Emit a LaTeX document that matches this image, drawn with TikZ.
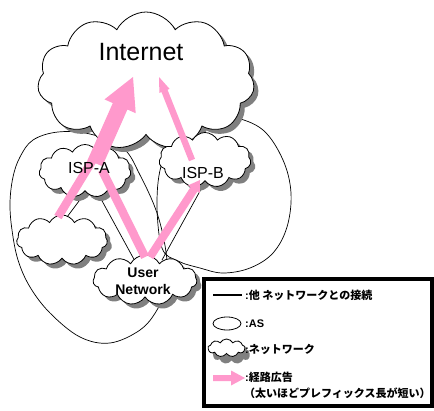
\documentclass[tikz,border=0pt]{standalone}
\usepackage{fontspec}
\setmainfont{Liberation Sans}
\newfontfamily\jp{Noto Sans CJK JP}
\usetikzlibrary{shapes.symbols,shadows}
\definecolor{adpink}{RGB}{255,153,204}
\definecolor{shadowgray}{RGB}{128,128,128}
\begin{document}
\begin{tikzpicture}[x=1pt,y=-1pt,
  cloudshape/.style={cloud, cloud puffs=11, cloud puff arc=125, cloud ignores aspect,
    draw, fill=white, line width=0.8pt, inner sep=0pt,
    drop shadow={shadow xshift=4.5pt, shadow yshift=-4.5pt, fill=shadowgray, opacity=1}},
  conn/.style={line width=0.7pt},
  asline/.style={line width=0.7pt},
  adv/.style={fill=adpink, draw=none},
  lbl/.style={inner sep=0pt, anchor=west, font=\bfseries\fontsize{11}{13}\selectfont}
]
\fill[white] (0,0) rectangle (434,410);
\useasboundingbox (0,0) rectangle (434,410);

% AS outlines
\draw[asline] plot[smooth cycle, tension=0.6] coordinates {
  (58,132) (90,134) (123,148) (140,175) (157,213) (166,252) (167,285) (157,310)
  (140,330) (110,343) (80,337) (50,313) (30,287) (18,260) (12,230) (10,203)
  (13,177) (20,157) (33,140)};
\draw[asline] plot[smooth cycle, tension=0.6] coordinates {
  (162,163) (157,203) (162,248) (178,261) (200,268) (223,273) (250,268) (273,253)
  (287,227) (291,193) (283,160) (263,130) (233,117) (205,116) (180,133)};

% connections
\coordinate (l1a) at (61,225); \coordinate (l1b) at (88,189);
\coordinate (l2a) at (95,188); \coordinate (l2b) at (136,263);
\coordinate (l4a) at (205,182); \coordinate (l4b) at (162,260);
\draw[conn] (l1a) -- (l1b);
\draw[conn] (l2a) -- (l2b);
\draw[conn] (l4a) -- (l4b);

% clouds
\node[cloudshape, cloud puffs=11, minimum width=217pt, minimum height=138pt] (inet) at (146,81) {};
\node[cloudshape, minimum width=92pt, minimum height=53pt] (ispa) at (85,171) {};
\node[cloudshape, minimum width=92pt, minimum height=55pt] (ispb) at (205,160) {};
\node[cloudshape, minimum width=91pt, minimum height=50pt] (small) at (62,240) {};
\node[cloudshape, minimum width=104pt, minimum height=50pt] (user) at (145,280) {};

% route advertisements
\fill[adv] (54.4,214.8) -- (96.4,145.8) -- (103.6,150.2) -- (61.6,219.2) -- cycle;
\fill[adv] (87.7,159.8) -- (112.8,103.1) -- (104.5,99.4) -- (133,77) -- (135.7,113.2)
  -- (127.4,109.5) -- (102.3,166.2) -- cycle;
\fill[adv] (141.2,258.9) -- (98.2,171.9) -- (105.8,168.1) -- (148.8,255.1) -- cycle;
\fill[adv] (146.6,254.8) -- (190.6,187.0) -- (188.1,185.4) -- (200,180) -- (199.9,193.0)
  -- (197.4,191.4) -- (153.4,259.2) -- cycle;
\fill[adv] (189.0,161.2) -- (161.5,92.1) -- (159.4,92.9) -- (159,77) -- (169.6,88.9)
  -- (167.5,89.7) -- (195.0,158.8) -- cycle;

% labels
\node[inner sep=0pt, font=\fontsize{25}{30}\selectfont] (inettxt) at (141,52) {Internet};
\node[inner sep=0pt, font=\fontsize{16}{19}\selectfont] (ispatxt) at (89,168) {ISP-A};
\node[inner sep=0pt, font=\fontsize{16}{19}\selectfont] (ispbtxt) at (203,173) {ISP-B};
\node[inner sep=0pt, align=center, font=\bfseries\fontsize{14}{17}\selectfont] (usertxt) at (143,281.5) {User\\Network};

% legend
\draw[line width=4pt, fill=white] (204,279) rectangle (432,406);
\coordinate (lg1a) at (213,295); \coordinate (lg1b) at (242,295);
\draw[line width=2pt] (lg1a) -- (lg1b);
\draw[line width=0.8pt] (227,323.5) ellipse [x radius=14, y radius=6.5];
\node[cloudshape, cloud puffs=9, minimum width=37pt, minimum height=18pt,
  drop shadow={shadow xshift=5pt, shadow yshift=-7pt, fill=shadowgray, opacity=1}] (lgcloud) at (226.5,348) {};
\fill[adv] (213,375) -- (231,375) -- (231,370.5) -- (245,378) -- (231,385.5) -- (231,381) -- (213,381) -- cycle;
\node[lbl] (lgt1) at (245,295) {:{\jp 他 ネットワークとの接続}};
\node[lbl] (lgt2) at (245,323.5) {:AS};
\node[lbl] (lgt3) at (245,349) {:{\jp ネットワーク}};
\node[lbl] (lgt4) at (245,377) {:{\jp 経路広告}};
\node[lbl] (lgt5) at (244,393) {{\jp （太いほどプレフィックス長が短い）}};
\end{tikzpicture}
\end{document}
